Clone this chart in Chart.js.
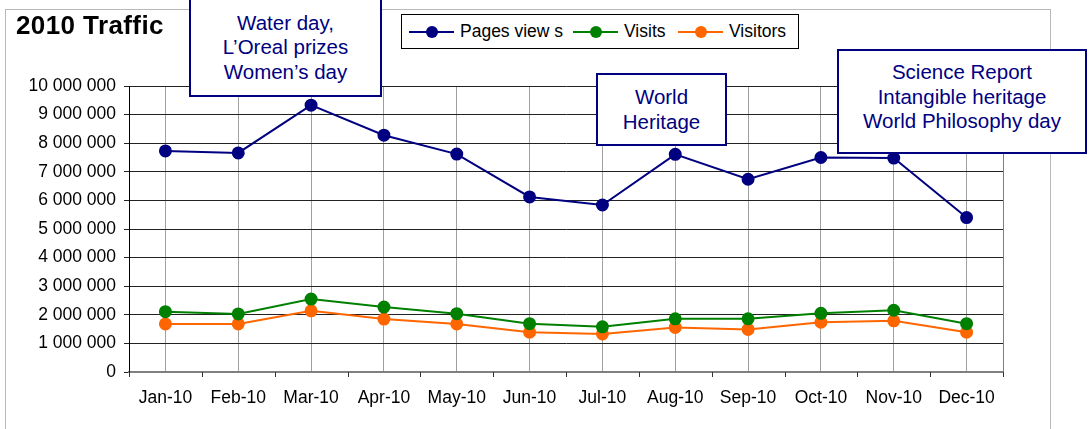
<!DOCTYPE html>
<html>
<head>
<meta charset="utf-8">
<script src="https://cdn.jsdelivr.net/npm/chart.js@4/dist/chart.umd.min.js"></script>
<style>
  body { margin:0; background:#fff; font-family: Arial, 'Liberation Sans', sans-serif; }
  #wrap { position:relative; width:1089px; height:429px; overflow:hidden; }
  #frame { position:absolute; left:5px; top:9px; width:1044px; height:440px; border:1px solid #b8b8b8; }
  #cv-box { position:absolute; left:0; top:0; width:1089px; height:429px; }
  #title { position:absolute; left:16px; top:10px; font-weight:bold; font-size:26px; letter-spacing:0.4px; color:#000; }
  .note { position:absolute; box-sizing:border-box; border:2px solid #000080; background:#fff; color:#000080;
          font-size:20.5px; line-height:24.5px; text-align:center; display:flex; flex-direction:column; justify-content:center; }
  #legend { position:absolute; left:401px; top:14px; width:398px; height:35px; box-sizing:border-box;
            border:1px solid #000; background:#fff; font-size:17.5px; }
  .lg { position:absolute; top:0; height:33px; display:flex; align-items:center; }
  .lg .ln { position:relative; width:45px; height:2px; margin-right:6px; }
  .lg .ln i { position:absolute; left:17px; top:-5px; width:12px; height:12px; border-radius:50%; }
</style>
</head>
<body>
<div id="wrap">
  <div id="frame"></div>
  <div id="cv-box"><canvas id="chart"></canvas></div>
  <div id="title">2010 Traffic</div>
  <div id="legend"></div>
  <div class="note" style="left:189px;top:-2px;width:193px;height:99px;">
    <div>Water day,</div><div>L’Oreal prizes</div><div>Women’s day</div>
  </div>
  <div class="note" style="left:596px;top:73px;width:131px;height:73px;">
    <div>World</div><div>Heritage</div>
  </div>
  <div class="note" style="left:837px;top:49px;width:250px;height:105px;padding-bottom:9px;">
    <div>Science Report</div><div>Intangible heritage</div><div>World Philosophy day</div>
  </div>
</div>
<script>
const months = ['Jan-10','Feb-10','Mar-10','Apr-10','May-10','Jun-10','Jul-10','Aug-10','Sep-10','Oct-10','Nov-10','Dec-10'];
const pageViews = [7730000, 7660000, 9330000, 8280000, 7620000, 6120000, 5840000, 7610000, 6740000, 7500000, 7480000, 5400000];
const visits    = [2110000, 2030000, 2550000, 2270000, 2040000, 1690000, 1580000, 1860000, 1860000, 2050000, 2160000, 1690000];
const visitors  = [1680000, 1680000, 2140000, 1850000, 1680000, 1390000, 1330000, 1560000, 1490000, 1740000, 1790000, 1390000];
const seriesNames = ['Pages view s', 'Visits', 'Visitors'];
const seriesColors = ['#000080', '#008000', '#ff6600'];

function fmt(v){ return String(v).replace(/\B(?=(\d{3})+(?!\d))/g, ' '); }

// legend (html)
const legendEl = document.getElementById('legend');
const legendX = [7, 171, 276];
seriesNames.forEach((name, i) => {
  const d = document.createElement('div');
  d.className = 'lg';
  d.style.left = legendX[i] + 'px';
  d.innerHTML = `<span class="ln" style="background:${seriesColors[i]}"><i style="background:${seriesColors[i]}"></i></span><span>${name}</span>`;
  legendEl.appendChild(d);
});

// tick marks between categories + right border of plot
const frameLines = {
  id: 'frameLines',
  afterDraw(chart){
    const {ctx, chartArea:a, scales:{x}} = chart;
    const half = (x.getPixelForTick(1) - x.getPixelForTick(0)) / 2;
    ctx.save();
    ctx.strokeStyle = '#808080';
    ctx.lineWidth = 1;
    ctx.beginPath();
    ctx.moveTo(a.right + 0.5, a.top);
    ctx.lineTo(a.right + 0.5, a.bottom);
    ctx.stroke();
    ctx.strokeStyle = '#333';
    ctx.beginPath();
    for (let i = 0; i <= months.length; i++) {
      const px = Math.round(x.getPixelForTick(0) - half + i * 2 * half) + 0.5;
      ctx.moveTo(px, a.bottom);
      ctx.lineTo(px, a.bottom + 5);
    }
    ctx.stroke();
    ctx.restore();
  }
};

const mk = (label, data, color) => ({
  label, data,
  borderColor: color, backgroundColor: color,
  pointBackgroundColor: color, pointBorderColor: color,
  borderWidth: 2, pointRadius: 5.5, pointHoverRadius: 5.5, tension: 0
});

new Chart(document.getElementById('chart'), {
  type: 'line',
  data: {
    labels: months,
    datasets: [
      mk(seriesNames[0], pageViews, seriesColors[0]),
      mk(seriesNames[1], visits, seriesColors[1]),
      mk(seriesNames[2], visitors, seriesColors[2])
    ]
  },
  options: {
    responsive: true,
    maintainAspectRatio: false,
    animation: false,
    layout: { padding: { left: 0, top: 86, right: 86, bottom: 0 } },
    plugins: { legend: { display: false }, tooltip: { enabled: false } },
    scales: {
      x: {
        offset: true,
        grid: { offset: false, color: '#a0a0a0', lineWidth: 1, drawTicks: false },
        border: { color: '#808080', width: 2 },
        ticks: { color: '#000', padding: 16, maxRotation: 0, font: { family: "Arial, 'Liberation Sans'", size: 17.5 } },
        afterFit: s => { s.height = 57; }
      },
      y: {
        min: 0, max: 10000000,
        ticks: { stepSize: 1000000, color: '#000', padding: 8, callback: v => fmt(v),
                 font: { family: "Arial, 'Liberation Sans'", size: 17.5 } },
        grid: { color: '#222', lineWidth: 1, tickLength: 5 },
        border: { color: '#000', width: 1 },
        afterFit: s => { s.width = 129; }
      }
    }
  },
  plugins: [frameLines]
});
</script>
</body>
</html>
